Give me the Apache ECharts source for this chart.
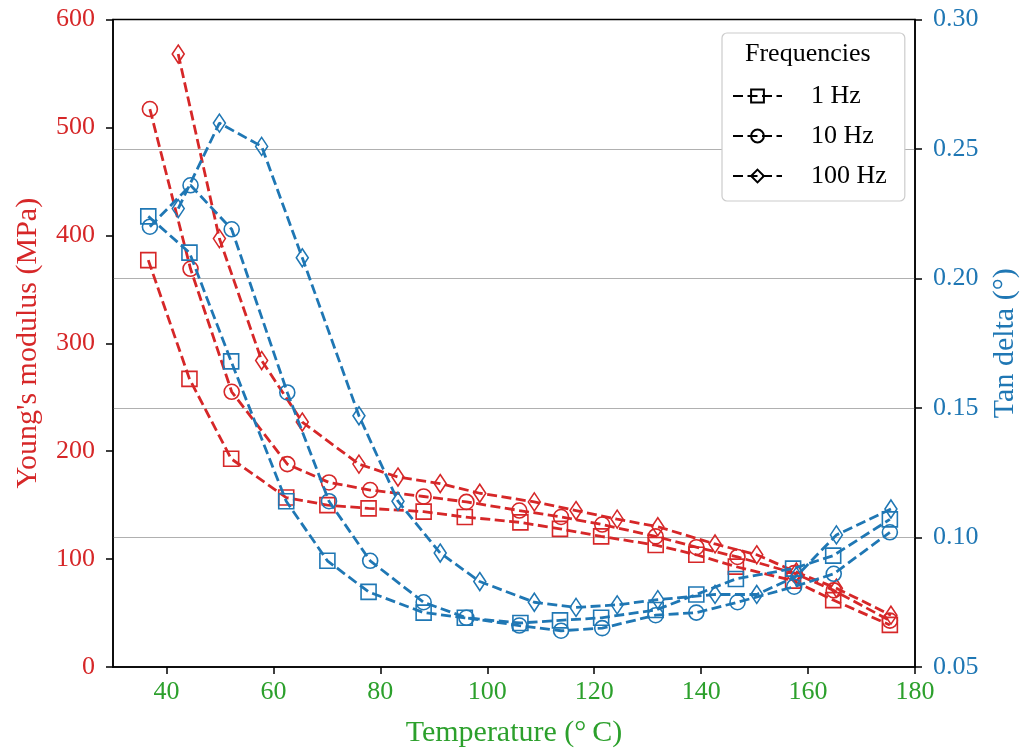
<!DOCTYPE html>
<html>
<head>
<meta charset="utf-8">
<script src="https://cdn.jsdelivr.net/npm/echarts@6/dist/echarts.min.js"></script>
<style>
html,body{margin:0;padding:0;background:#fff;}
#chart{width:1022px;height:753px;}
</style>
</head>
<body>
<div id="chart"></div>
<script>
// ---- data ----
const temps1   = [36.6, 44.3, 52.1, 62.4, 70.1, 77.8, 88.1, 95.8, 106.2, 113.6, 121.3, 131.5, 139.1, 146.5, 157.2, 164.7, 175.3];
const temps10  = [36.9, 44.5, 52.2, 62.6, 70.4, 78.1, 88.1, 96.1, 106.0, 113.8, 121.5, 131.5, 139.1, 146.8, 157.4, 164.8, 175.3];
const temps100 = [42.2, 49.9, 57.8, 65.4, 76.0, 83.3, 91.2, 98.6, 108.8, 116.6, 124.3, 131.9, 142.6, 150.4, 157.8, 165.3, 175.5];

const modulus1   = [377, 267, 193, 157, 150, 147, 144, 139, 134, 128, 121, 113, 104, 93, 80, 62, 39];
const modulus10  = [517, 369, 255, 188, 171, 164, 158, 153, 145, 139, 132, 121, 111, 102, 87, 71, 43];
const modulus100 = [568, 397, 284, 227, 188, 176, 170, 161, 153, 145, 137, 130, 114, 104, 88, 73, 48];

const tan1   = [0.224, 0.210, 0.168, 0.114, 0.091, 0.079, 0.071, 0.069, 0.067, 0.068, 0.069, 0.072, 0.078, 0.084, 0.088, 0.093, 0.107];
const tan10  = [0.220, 0.236, 0.219, 0.156, 0.114, 0.091, 0.075, 0.069, 0.066, 0.064, 0.065, 0.070, 0.071, 0.075, 0.081, 0.086, 0.102];
const tan100 = [0.227, 0.260, 0.251, 0.208, 0.147, 0.114, 0.094, 0.083, 0.075, 0.073, 0.074, 0.076, 0.078, 0.078, 0.085, 0.101, 0.111];

const freqNames = ['1 Hz', '10 Hz', '100 Hz'];
const xTicks = [40, 60, 80, 100, 120, 140, 160, 180];
const leftTicks = [0, 100, 200, 300, 400, 500, 600];
const rightTicks = [0.05, 0.10, 0.15, 0.20, 0.25, 0.30];

// ---- styling ----
const RED = '#d62728', BLUE = '#1f77b4', GREEN = '#2ca02c';
const FONT = '"Liberation Serif", "DejaVu Serif", serif';
const DASH = [10, 4.5];
const symbols = ['rect', 'circle', 'diamond'];
const symbolSizes = [15, 15, [12, 18]];

function pairs(xs, ys) { return xs.map((x, i) => [x, ys[i]]); }

function mkSeries(name, xs, ys, color, k, axis) {
  return {
    name: name,
    type: 'line',
    yAxisIndex: axis,
    data: pairs(xs, ys),
    symbol: symbols[k],
    symbolSize: symbolSizes[k],
    showAllSymbol: true,
    lineStyle: { color: color, width: 2.8, type: DASH },
    itemStyle: { color: 'none', borderColor: color, borderWidth: 1.6 },
    emphasis: { disabled: true },
    z: axis === 0 ? 3 : 4
  };
}

const temps = [temps1, temps10, temps100];
const mods = [modulus1, modulus10, modulus100];
const tans = [tan1, tan10, tan100];

const series = [];
for (let k = 0; k < 3; k++) series.push(mkSeries('E ' + freqNames[k], temps[k], mods[k], RED, k, 0));
for (let k = 0; k < 3; k++) series.push(mkSeries('tan ' + freqNames[k], temps[k], tans[k], BLUE, k, 1));
// legend-only black entries
for (let k = 0; k < 3; k++) {
  series.push({
    name: freqNames[k], type: 'line', data: [], yAxisIndex: 0,
    symbol: symbols[k], symbolSize: symbolSizes[k],
    lineStyle: { color: '#000', width: 2.8, type: DASH },
    itemStyle: { color: 'none', borderColor: '#000', borderWidth: 1.6 }
  });
}

const chart = echarts.init(document.getElementById('chart'), null, { renderer: 'canvas' });
chart.setOption({
  animation: false,
  backgroundColor: '#fff',
  textStyle: { fontFamily: FONT },
  grid: { left: 113, right: 107, top: 19.5, bottom: 86, containLabel: false, outerBoundsMode: 'none',
          show: true, borderColor: '#000', borderWidth: 1.5, backgroundColor: 'transparent' },
  xAxis: {
    type: 'value', min: 30, max: 180,
    name: 'Temperature (°\u2009C)', nameLocation: 'middle', nameGap: 51,
    nameTextStyle: { color: GREEN, fontSize: 30, fontFamily: FONT },
    axisLine: { show: true, lineStyle: { color: '#000', width: 1.5 } },
    axisTick: { show: true, inside: false, length: 7, lineStyle: { color: '#000', width: 1.5 }, customValues: xTicks },
    axisLabel: { color: GREEN, fontSize: 26, fontFamily: FONT, margin: 12, customValues: xTicks },
    splitLine: { show: false }
  },
  yAxis: [
    {
      type: 'value', min: 0, max: 600, interval: 100, position: 'left',
      name: "Young's modulus (MPa)", nameLocation: 'middle', nameGap: 70, nameRotate: 90,
      nameTextStyle: { color: RED, fontSize: 30, fontFamily: FONT },
      axisLine: { show: true, lineStyle: { color: '#000', width: 1.5 } },
      axisTick: { show: true, inside: false, length: 7, lineStyle: { color: '#000', width: 1.5 }, customValues: leftTicks },
      axisLabel: { color: RED, fontSize: 26, fontFamily: FONT, margin: 18, customValues: leftTicks },
      splitLine: { show: false }
    },
    {
      type: 'value', min: 0.05, max: 0.30, interval: 0.05, position: 'right',
      name: 'Tan delta (°)', nameLocation: 'middle', nameGap: 75, nameRotate: 90,
      nameTextStyle: { color: BLUE, fontSize: 30, fontFamily: FONT },
      axisLine: { show: true, lineStyle: { color: '#000', width: 1.5 } },
      axisTick: { show: true, inside: false, length: 7, lineStyle: { color: '#000', width: 1.5 } },
      axisLabel: { color: BLUE, fontSize: 26, fontFamily: FONT, margin: 18, formatter: v => v.toFixed(2) },
      splitLine: { show: true, showMinLine: false, showMaxLine: false, lineStyle: { color: '#b0b0b0', width: 1.2 } }
    }
  ],
  legend: {
    data: freqNames,
    orient: 'vertical',
    left: 722, top: 33,
    width: 181,
    padding: [50, 18, 12, 10],
    itemGap: 14,
    itemWidth: 49, itemHeight: 16,
    backgroundColor: '#fff',
    borderColor: '#cccccc', borderWidth: 1.2, borderRadius: 5,
    textStyle: { color: '#000', fontSize: 26, fontFamily: FONT, padding: [0, 0, 0, 24] },
    selectedMode: false,
    z: 5
  },
  graphic: [{
    type: 'text', left: 745, top: 41, z: 100,
    style: { text: 'Frequencies', fill: '#000', font: '26px ' + FONT }
  }],
  series: series
});
</script>
</body>
</html>
